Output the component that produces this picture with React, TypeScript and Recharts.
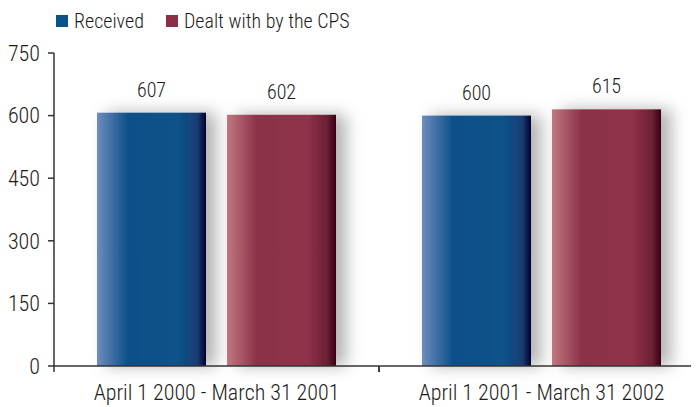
import { BarChart, Bar, XAxis, YAxis, LabelList } from "recharts";

const periods = ["April 1 2000 - March 31 2001", "April 1 2001 - March 31 2002"];
const received = [607, 600];
const dealtWith = [602, 615];
const yTicks = [0, 150, 300, 450, 600, 750];

const data = periods.map((period, i) => ({
  period,
  received: received[i],
  dealtWith: dealtWith[i],
}));

const font = "'Liberation Sans Narrow', 'Roboto Condensed', 'DejaVu Sans Condensed', 'Liberation Sans', sans-serif";
const textColor = "#1c1c1c";
const axisColor = "#333333";
const weight = 300;

function ShadowBar(props: any) {
  const { x, y, width, height, fill } = props;
  if (!height || height <= 0) return null;
  return <rect x={x} y={y} width={width} height={height} fill={fill} filter="url(#barShadow)" />;
}

function CategoryTick(props: any) {
  const { x, y, payload } = props;
  const half = payload?.offset ?? 0;
  return (
    <g>
      <line x1={x - half} x2={x - half} y1={y - 8} y2={y - 2} stroke={axisColor} strokeWidth={1.5} />
      <line x1={x + half} x2={x + half} y1={y - 8} y2={y - 2} stroke={axisColor} strokeWidth={1.5} />
      <text x={x} y={y + 26} textAnchor="middle" fill={textColor} fontSize={22} fontWeight={weight} fontFamily={font}>
        {payload.value}
      </text>
    </g>
  );
}

function LegendItem({ color, label }: { color: string; label: string }) {
  return (
    <span style={{ display: "inline-flex", alignItems: "center", marginRight: 22 }}>
      <span style={{ width: 12, height: 12, background: color, marginRight: 6, display: "inline-block" }} />
      <span>{label}</span>
    </span>
  );
}

export default function App() {
  return (
    <div style={{ position: "relative", width: 691, height: 399, overflow: "hidden", background: "#fff" }}>
      <div
        style={{
          position: "absolute",
          left: 48,
          top: 0,
          fontFamily: font,
          fontSize: 20,
          fontWeight: weight,
          color: textColor,
          lineHeight: "24px",
          zIndex: 1,
        }}
      >
        <LegendItem color="#0a5288" label="Received" />
        <LegendItem color="#8b2e48" label="Dealt with by the CPS" />
      </div>
      <BarChart
        width={696}
        height={399}
        data={data}
        margin={{ top: 45, right: 0, bottom: 11, left: 0 }}
        barCategoryGap={43}
        barGap={21}
      >
        <defs>
          <linearGradient id="blueGrad" x1="0" y1="0" x2="1" y2="0">
            <stop offset="0%" stopColor="#6f8dbd" />
            <stop offset="28%" stopColor="#0d508a" />
            <stop offset="75%" stopColor="#0a5288" />
            <stop offset="92%" stopColor="#183d74" />
            <stop offset="100%" stopColor="#00002e" />
          </linearGradient>
          <linearGradient id="redGrad" x1="0" y1="0" x2="1" y2="0">
            <stop offset="0%" stopColor="#c07880" />
            <stop offset="28%" stopColor="#8a3047" />
            <stop offset="75%" stopColor="#8e3049" />
            <stop offset="92%" stopColor="#6a2034" />
            <stop offset="100%" stopColor="#3a0010" />
          </linearGradient>
          <filter id="barShadow" x="-30%" y="-10%" width="170%" height="120%">
            <feDropShadow dx={10} dy={0} stdDeviation={8} floodColor="#000" floodOpacity={0.3} />
          </filter>
        </defs>
        <XAxis
          dataKey="period"
          axisLine={{ stroke: axisColor, strokeWidth: 1.5 }}
          tickLine={false}
          tick={<CategoryTick />}
          interval={0}
          height={30}
        />
        <YAxis
          domain={[0, 750]}
          ticks={yTicks}
          width={46}
          axisLine={{ stroke: axisColor, strokeWidth: 1.5 }}
          tickLine={{ stroke: axisColor, strokeWidth: 1.5 }}
          tickSize={6}
          tickMargin={8}
          tick={{ fill: textColor, fontSize: 22, fontWeight: weight, fontFamily: font }}
        />
        <Bar dataKey="received" fill="url(#blueGrad)" shape={<ShadowBar />} isAnimationActive={false}>
          <LabelList dataKey="received" position="top" offset={16} fill={textColor} fontSize={20} fontWeight={weight} fontFamily={font} />
        </Bar>
        <Bar dataKey="dealtWith" fill="url(#redGrad)" shape={<ShadowBar />} isAnimationActive={false}>
          <LabelList dataKey="dealtWith" position="top" offset={16} fill={textColor} fontSize={20} fontWeight={weight} fontFamily={font} />
        </Bar>
      </BarChart>
    </div>
  );
}
